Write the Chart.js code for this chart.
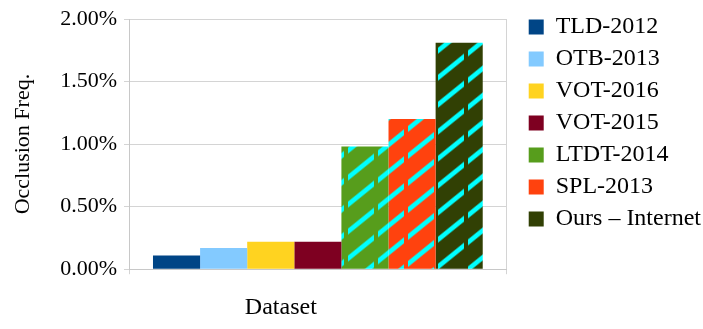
<!DOCTYPE html>
<html>
<head>
<meta charset="utf-8">
<title>Occlusion frequency</title>
<script src="https://cdn.jsdelivr.net/npm/chart.js"></script>
<style>
  html, body { margin: 0; padding: 0; background: #fff; }
  #wrap { width: 703px; height: 329px; }
</style>
</head>
<body>
<div id="wrap"><canvas id="occChart"></canvas></div>
<script>
// data (values in percent)
const categories = ['Dataset'];
const seriesNames = ['TLD-2012', 'OTB-2013', 'VOT-2016', 'VOT-2015', 'LTDT-2014', 'SPL-2013', 'Ours \u2013 Internet'];
const occlusionFreq = [0.11, 0.17, 0.22, 0.22, 0.98, 1.20, 1.81];
const hatched = [false, false, false, false, true, true, true];
const yTickValues = [0, 0.5, 1.0, 1.5, 2.0];

const barColors = ['#004586', '#83caff', '#ffd320', '#7e0021', '#579d1c', '#ff420e', '#314004'];
const serif = 'Liberation Serif';

// cyan dashed diagonal hatch: horizontal dashes in a 30x27 tile, skewed upward.
// the pattern is anchored to the canvas so the lines run on across bars
function makeHatch(base) {
    const tile = document.createElement('canvas');
    tile.width = 30;
    tile.height = 27;
    const c = tile.getContext('2d');
    c.fillStyle = base;
    c.fillRect(0, 0, 30, 27);
    c.fillStyle = '#00ffff';
    for (const dx of [0, -30]) {
        for (const dy of [0, 27]) {
            c.fillRect(18 + dx, -2.5 + dy, 26, 6);
        }
    }
    const pat = c.createPattern(tile, 'repeat');
    pat.setTransform(new DOMMatrix([1, -0.81, 0, 1, 0, 0]));
    return pat;
}

const datasets = seriesNames.map((name, i) => ({
    label: name,
    data: [occlusionFreq[i]],
    backgroundColor: hatched[i] ? makeHatch(barColors[i]) : barColors[i],
    borderWidth: 0,
    categoryPercentage: 0.873,
    barPercentage: 1.0,
    yAxisID: 'y'
}));

const chart = new Chart(document.getElementById('occChart'), {
    type: 'bar',
    data: { labels: categories, datasets: datasets },
    options: {
        responsive: true,
        maintainAspectRatio: false,
        animation: false,
        layout: { padding: { top: 7, left: 6, right: -8, bottom: -12 } },
        plugins: {
            tooltip: { enabled: false },
            legend: {
                position: 'right',
                align: 'start',
                maxWidth: 400,
                labels: {
                    boxWidth: 15,
                    boxHeight: 15,
                    padding: 8,
                    color: '#000',
                    font: { family: serif, size: 24 },
                    generateLabels: function(ch) {
                        return ch.data.datasets.map((ds, i) => ({
                            text: ds.label,
                            fillStyle: barColors[i],
                            strokeStyle: barColors[i],
                            lineWidth: 0,
                            hidden: !ch.isDatasetVisible(i),
                            datasetIndex: i,
                            fontColor: '#000'
                        }));
                    }
                }
            }
        },
        scales: {
            x: {
                grid: { color: '#d4d4d4', tickLength: 5 },
                border: { color: '#c8c8c8' },
                ticks: {
                    color: '#000',
                    font: { family: serif, size: 24 },
                    padding: 19,
                    labelOffset: -37
                }
            },
            y: {
                min: 0,
                max: 2,
                afterBuildTicks: function(scale) {
                    scale.ticks = yTickValues.map(v => ({ value: v }));
                },
                afterFit: function(scale) {
                    scale.width = 123;
                    scale.paddingTop = 19;
                },
                grid: { color: '#d4d4d4', tickLength: 5 },
                border: { color: '#c8c8c8' },
                ticks: {
                    color: '#000',
                    padding: 7,
                    font: { family: serif, size: 22 },
                    callback: v => v.toFixed(2) + '%'
                },
                title: {
                    display: true,
                    text: 'Occlusion Freq.',
                    color: '#000',
                    font: { family: serif, size: 22 },
                    padding: { top: 4, bottom: 4 }
                }
            },
            // spacer between plot and legend
            gap: {
                position: 'right',
                grid: { display: false },
                border: { display: false },
                ticks: { display: false },
                afterFit: function(scale) {
                    scale.width = 14;
                }
            }
        }
    }
});
</script>
</body>
</html>
